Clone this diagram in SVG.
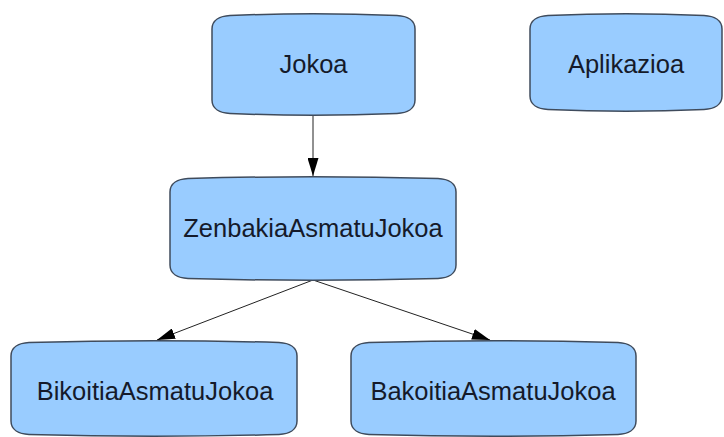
<svg xmlns="http://www.w3.org/2000/svg" width="724" height="437" viewBox="0 0 724 437">
  <style>
    .box { fill: #99ccff; stroke: #3f4b5c; stroke-width: 1.5; }
    .lbl { font-family: "Liberation Sans", Arial, sans-serif; font-size: 25.5px; fill: #151a2a; text-anchor: middle; }
    .edge { stroke: #222; stroke-width: 1; fill: none; marker-end: url(#arr); }
  </style>
  <defs>
    <marker id="arr" viewBox="0 0 18 11" refX="18" refY="5.5" markerWidth="18" markerHeight="11" markerUnits="userSpaceOnUse" orient="auto">
      <path d="M0,0 L18,5.5 L0,11 Z" fill="#000"/>
    </marker>
  </defs>
  <rect width="724" height="437" fill="#fff"/>
  <g id="connectors">
    <line class="edge" x1="313" y1="115" x2="313" y2="176"/>
    <line class="edge" x1="313" y1="280" x2="157" y2="340"/>
    <line class="edge" x1="313" y1="280" x2="490" y2="340"/>
  </g>
  <g id="jokoa">
    <path class="box" d="M212,29 C212,20 220,16 230,15.5 Q313.5,12 397,15.5 C407,16 415,20 415,29 L415,100 C415,109 407,113 397,113.5 Q313.5,117 230,113.5 C220,113 212,109 212,100 Z"/>
    <text class="lbl" x="313.5" y="73">Jokoa</text>
  </g>
  <g id="aplikazioa">
    <path class="box" d="M530,29 C530,20 538,16 548,15.5 Q626,12 704,15.5 C714,16 722,20 722,29 L722,96 C722,105 714,109 704,109.5 Q626,113 548,109.5 C538,109 530,105 530,96 Z"/>
    <text class="lbl" x="626" y="73">Aplikazioa</text>
  </g>
  <g id="zenbakia">
    <path class="box" d="M170,192 C170,183 178,179 188,178.5 Q313,175 438,178.5 C448,179 456,183 456,192 L456,265 C456,274 448,278 438,278.5 Q313,282 188,278.5 C178,278 170,274 170,265 Z"/>
    <text class="lbl" x="313" y="237">ZenbakiaAsmatuJokoa</text>
  </g>
  <g id="bikoitia">
    <path class="box" d="M11,356 C11,347 19,343 29,342.5 Q154,339 279,342.5 C289,343 297,347 297,356 L297,421 C297,430 289,434 279,434.5 Q154,438 29,434.5 C19,434 11,430 11,421 Z"/>
    <text class="lbl" x="155" y="400">BikoitiaAsmatuJokoa</text>
  </g>
  <g id="bakoitia">
    <path class="box" d="M351,356 C351,347 359,343 369,342.5 Q493.5,339 618,342.5 C628,343 636,347 636,356 L636,421 C636,430 628,434 618,434.5 Q493.5,438 369,434.5 C359,434 351,430 351,421 Z"/>
    <text class="lbl" x="493" y="400">BakoitiaAsmatuJokoa</text>
  </g>
</svg>
